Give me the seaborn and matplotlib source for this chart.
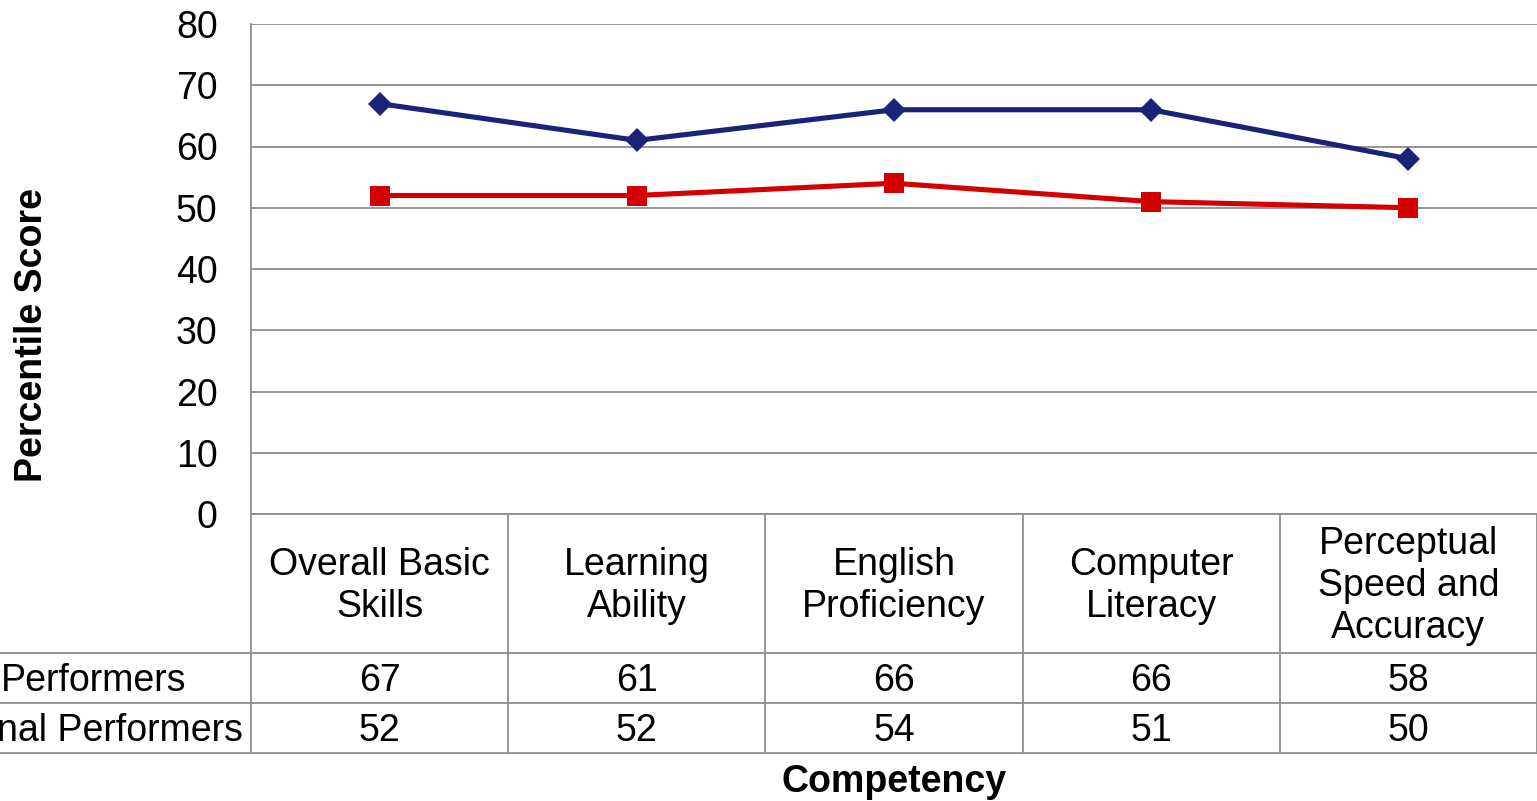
import matplotlib
matplotlib.use("Agg")
import matplotlib.pyplot as plt
import matplotlib.transforms as mtransforms
from matplotlib.lines import Line2D
import pandas as pd
import seaborn as sns

# chart data
competencies = ["Overall Basic\nSkills", "Learning\nAbility", "English\nProficiency",
                "Computer\nLiteracy", "Perceptual\nSpeed and\nAccuracy"]
# row labels as far as they are visible in the original (cut off on the left)
top_label = "Performers"
trad_label = "nal Performers"
top_scores = [67, 61, 66, 66, 58]
trad_scores = [52, 52, 54, 51, 50]
y_ticks = [0, 10, 20, 30, 40, 50, 60, 70, 80]

W, H = 1537, 801
BLUE = "#1b2378"
RED = "#d40000"
GRID = "#8e8e8e"
FS = 27

sns.set_theme(style="white")
plt.rcParams["font.family"] = ["Liberation Sans", "DejaVu Sans"]
plt.rcParams["text.color"] = "black"

df = pd.DataFrame({
    "pos": list(range(len(competencies))) * 2,
    "score": top_scores + trad_scores,
    "group": [top_label] * len(competencies) + [trad_label] * len(competencies),
})

fig = plt.figure(figsize=(W / 100, H / 100), dpi=100)


def fx(px):
    return px / W


def fy(py):
    return 1 - py / H


ax = fig.add_axes([fx(251), fy(514), fx(1537) - fx(251), fy(24) - fy(514)])

sns.lineplot(data=df, x="pos", y="score", hue="group", style="group",
             palette={top_label: BLUE, trad_label: RED},
             markers={top_label: "D", trad_label: "s"}, dashes=False,
             linewidth=3.7, markersize=13, markeredgewidth=0,
             legend=False, ax=ax, zorder=3)

ax.set_xlim(-0.5, len(competencies) - 0.5)
ax.set_ylim(0, 80)
ax.set_yticks(y_ticks)
ax.set_xticks([])
ax.tick_params(axis="y", length=0, pad=24, labelsize=FS, labelcolor="black")
ax.yaxis.grid(True, color=GRID, linewidth=1.3)
ax.set_axisbelow(True)
for side in ["top", "right", "bottom"]:
    ax.spines[side].set_visible(False)
ax.spines["left"].set_color(GRID)
ax.spines["left"].set_linewidth(1.3)
ax.set_xlabel("")
ax.set_ylabel("")

# diamond vs square marker sizes
for line in ax.lines:
    if line.get_marker() == "D":
        line.set_markersize(12.5)
    elif line.get_marker() == "s":
        line.set_markersize(14)

# data table below the plot
blend = mtransforms.blended_transform_factory(ax.transData, fig.transFigure)
for i, name in enumerate(competencies):
    ax.text(i, fy(586), name, transform=blend, ha="center", va="center",
            fontsize=FS, linespacing=1.2, clip_on=False)
    ax.text(i, fy(681), str(top_scores[i]), transform=blend, ha="center",
            va="center", fontsize=FS, clip_on=False)
    ax.text(i, fy(731), str(trad_scores[i]), transform=blend, ha="center",
            va="center", fontsize=FS, clip_on=False)

fig.text(fx(1), fy(681), top_label, ha="left", va="center", fontsize=FS)
fig.text(fx(243), fy(731), trad_label, ha="right", va="center", fontsize=FS)

for yy in [653, 703, 753]:
    fig.add_artist(Line2D([0, 1], [fy(yy), fy(yy)], color=GRID, lw=1.3,
                          transform=fig.transFigure))
fig.add_artist(Line2D([fx(251), 1], [fy(514), fy(514)], color=GRID, lw=1.3,
                      transform=fig.transFigure))
for k in range(len(competencies) + 1):
    ax.add_line(Line2D([k - 0.5, k - 0.5], [fy(514), fy(753)], color=GRID,
                       lw=1.3, transform=blend, clip_on=False))

fig.text(fx(894), fy(782), "Competency", ha="center", va="center",
         fontsize=FS, fontweight="bold")
fig.text(fx(32), fy(335), "Percentile Score", ha="center", va="center",
         rotation=90, fontsize=FS, fontweight="bold")

fig.savefig("out.png", dpi=100)
